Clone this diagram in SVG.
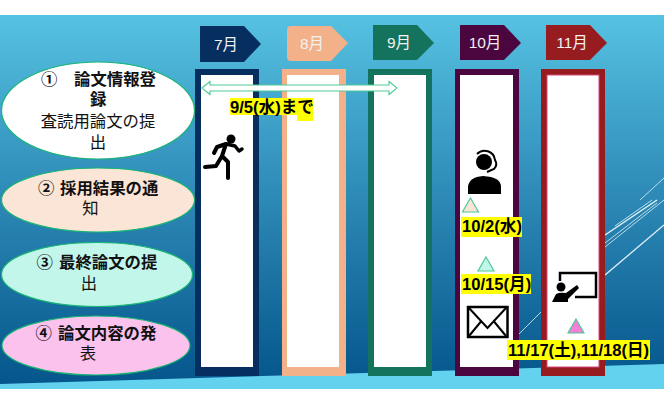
<svg xmlns="http://www.w3.org/2000/svg" width="664" height="405" viewBox="0 0 664 405">
<defs>
<linearGradient id="bg" x1="0" y1="0" x2="0" y2="1"><stop offset="0" stop-color="#56c2e2"/><stop offset="0.5" stop-color="#2c88b5"/><stop offset="1" stop-color="#03548a"/></linearGradient>
</defs>
<style>
text{font-family:"Liberation Sans","Noto Sans CJK JP",sans-serif;fill:#111}
.o{font-size:16.4px;text-anchor:middle}
.b{font-size:16.4px;font-weight:bold}
.m{font-size:15.500px;fill:#f2f2f2;text-anchor:middle}
.d{font-size:16.600px;font-weight:bold;fill:#000}
.e{stroke:#19b573;stroke-width:1.2}
.i{fill:#fff}
.t{stroke:#4fca95;stroke-width:1.2}
.h{fill:#ffff00}
.g{stroke:#dff2f8;fill:none}
</style>
<rect width="664" height="405" fill="#fff"/>
<rect x="0" y="15" width="664" height="374" fill="url(#bg)"/>
<g class="g">
<path d="M640 200L664 178" stroke-width="0.8"/>
<path d="M615 226L652 200" stroke-width="0.8"/>
<path d="M605 235L657 200" stroke-width="1.500"/>
<path d="M605 243L657 203" stroke-width="0.8"/>
<path d="M605 247L664 200" stroke-width="0.8"/>
<path d="M605 275L664 225" stroke-width="1.300"/>
<path d="M519 334L541 312" stroke-width="0.8"/>
</g>
<path d="M0 384L664 364V389H0Z" fill="#62d2ef"/>
<g id="col-7"><rect x="195" y="69" width="64" height="307" fill="#062e5f"/><rect class="i" x="201" y="75" width="52" height="292"/></g>
<g id="col-8"><rect x="282" y="69" width="64" height="307" fill="#f2b189"/><rect class="i" x="287" y="75" width="52" height="292"/></g>
<g id="col-9"><rect x="368" y="69" width="64" height="307" fill="#14735c"/><rect class="i" x="374" y="75" width="52" height="292"/></g>
<g id="col-10"><rect x="455" y="69" width="64" height="307" fill="#4c063f"/><rect class="i" x="460" y="75" width="53" height="292"/></g>
<g id="col-11"><rect x="541" y="69" width="64" height="307" fill="#961c1f"/><rect class="i" x="547" y="75" width="52" height="292" stroke="#d8487c" stroke-width="1"/></g>
<g id="m7"><path d="M200 26H244L261 44L244 62H200Z" fill="#062e5f"/><text class="m" x="226" y="50">7月</text></g>
<g id="m8"><path d="M291 26H331L348 43L331 61H291Q287 61 287 57V30Q287 26 291 26Z" fill="#f2b189"/><text class="m" x="312" y="49">8月</text></g>
<g id="m9"><path d="M373 25H417L434 43L417 60H373Z" fill="#14735c"/><text class="m" x="399" y="48">9月</text></g>
<g id="m10"><path d="M460 25H504L521 43L504 60H460Z" fill="#4c063f"/><text class="m" x="485" y="48">10月</text></g>
<g id="m11"><path d="M546 25H590L607 43L590 60H546Z" fill="#961c1f"/><text class="m" x="572" y="48">11月</text></g>
<g id="n1"><ellipse class="e" cx="98" cy="110.500" rx="96.500" ry="48.500" fill="#fff"/>
<text class="b" y="85"><tspan x="41">①</tspan><tspan x="74">論文情報登</tspan></text><text class="b" x="90" y="105">録</text><text class="o" x="98" y="127">査読用論文の提</text><text class="o" x="98" y="148">出</text></g>
<g id="n2"><ellipse class="e" cx="98" cy="200" rx="96.500" ry="32" fill="#fbe5d6"/>
<text class="b" y="194"><tspan x="38">②</tspan><tspan x="60">採用結果の通</tspan></text><text class="o" x="90.500" y="214">知</text></g>
<g id="n3"><ellipse class="e" cx="97" cy="274.500" rx="95.500" ry="32" fill="#c2f6eb"/>
<text class="b" y="268"><tspan x="36.500">③</tspan><tspan x="59">最終論文の提</tspan></text><text class="o" x="89" y="289">出</text></g>
<g id="n4"><ellipse class="e" cx="96" cy="345.500" rx="94" ry="29.500" fill="#fbc2ee"/>
<text class="b" y="339"><tspan x="35.500">④</tspan><tspan x="58">論文内容の発</tspan></text><text class="o" x="88" y="359">表</text></g>
<g id="connectors">
<path d="M202 88L210 81.500V85H389V81.500L397 88L389 94.500V91H210V94.500Z" fill="#fff" stroke="#4fca95" stroke-width="1.100"/>
</g>
<g id="l1"><rect class="h" x="230" y="98" width="68" height="17"/><rect class="h" x="297" y="98" width="16" height="23"/><text class="d" x="230" y="113">9/5(水)まで</text></g>
<g id="run" fill="#000"><circle cx="231" cy="139" r="4.500"/>
<path d="M226 144L235 146L239 151L242 149" fill="none" stroke="#000" stroke-width="3.500" stroke-linecap="round" stroke-linejoin="round"/>
<path d="M226 144L217 147L214 153M226 144L222 156L228 162L228 178M222 156L216 166L205 167" fill="none" stroke="#000" stroke-width="4" stroke-linecap="round" stroke-linejoin="round"/></g>
<g id="operator"><circle cx="484" cy="162" r="8" fill="#000"/><path d="M477 154A10.500 10.500 0 0 1 495 160Q498 165 494 169L487 172" fill="none" stroke="#000" stroke-width="2"/>
<path d="M468 194V187Q469 177 483 176Q501 177 501 187V194Z" fill="#000"/></g>
<g id="t1"><path class="t" d="M470.500 198L478.500 212H462.500Z" fill="#fbe5d6"/></g>
<g id="l2"><rect class="h" x="461" y="217" width="61" height="20"/><text class="d" x="462" y="232">10/2(水)</text></g>
<g id="t2"><path class="t" d="M486 257L494 271H478Z" fill="#c2f6eb"/></g>
<g id="l3"><rect class="h" x="461" y="274" width="70" height="20"/><text class="d" x="462" y="290">10/15(月)</text></g>
<g id="mail"><rect x="468" y="307" width="39.500" height="30" fill="#fff" stroke="#000" stroke-width="2.500"/><path d="M469 308L487.500 328L506 308M469 336L481 321.500M506 336L494 321.500" fill="none" stroke="#000" stroke-width="2"/></g>
<g id="teach"><path d="M560 281V273H596V297H575" fill="none" stroke="#000" stroke-width="2.500"/><circle cx="561" cy="287" r="4.500" fill="#000"/>
<path d="M552 302L556 294Q560 292 566 293L577 285L579 288L568 299V302Z" fill="#000"/></g>
<g id="t3"><path class="t" d="M576 319L584 333H568Z" fill="#f57fd8"/></g>
<g id="l4"><rect class="h" x="507" y="340" width="143" height="20"/><text class="d" x="508" y="356">11/17(土),11/18(日)</text></g>
</svg>
